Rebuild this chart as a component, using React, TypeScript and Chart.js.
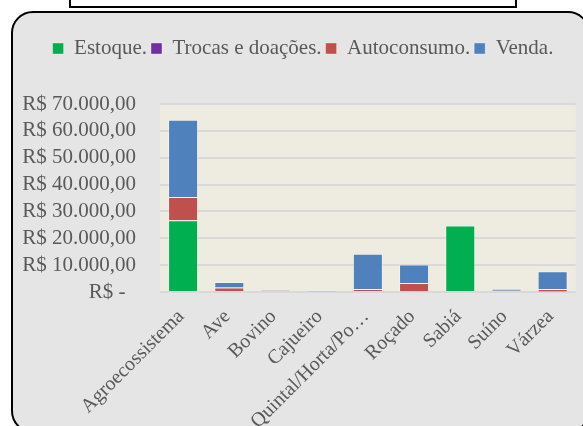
import React, { useEffect, useRef } from "react";
import { Chart, registerables } from "chart.js";

Chart.register(...registerables);

const categories = [
  "Agroecossistema",
  "Ave",
  "Bovino",
  "Cajueiro",
  "Quintal/Horta/Po…",
  "Roçado",
  "Sabiá",
  "Suíno",
  "Várzea",
];
const estoque = [26750, 0, 0, 0, 400, 300, 24750, 0, 200];
const trocas = [0, 0, 0, 0, 0, 0, 0, 0, 0];
const autoconsumo = [8600, 1700, 550, 0, 700, 3050, 0, 500, 900];
const venda = [28800, 2000, 200, 100, 13100, 6850, 0, 700, 6600];
const seriesNames = ["Estoque.", "Trocas e doações.", "Autoconsumo.", "Venda."];
const seriesColors = ["#00B050", "#7030A0", "#C0504D", "#4F81BD"];
const yMax = 70000;
const yStep = 10000;

const FONT = "'Times New Roman', 'Liberation Serif', serif";
const TEXT = "#595959";
const FS = 21;

function fmt(v: number): string {
  if (v === 0) return "R$ -  ";
  const s = Math.round(v).toString().replace(/\B(?=(\d{3})+(?!\d))/g, ".");
  return "R$ " + s + ",00";
}

const frame = {
  id: "frame",
  beforeDraw(chart: any) {
    const ctx = chart.ctx;
    const { width, height } = chart;
    ctx.save();
    ctx.fillStyle = "#ffffff";
    ctx.fillRect(0, 0, width, height);
    ctx.fillStyle = "#ffffff";
    ctx.strokeStyle = "#000000";
    ctx.lineWidth = 2;
    ctx.fillRect(70, -10, 446, 17);
    ctx.strokeRect(70, -10, 446, 17);
    const x = 12, y = 12, w = 577, h = 420, r = 21;
    ctx.beginPath();
    ctx.moveTo(x + r, y);
    ctx.lineTo(x + w - r, y);
    ctx.arcTo(x + w, y, x + w, y + r, r);
    ctx.lineTo(x + w, y + h - r);
    ctx.arcTo(x + w, y + h, x + w - r, y + h, r);
    ctx.lineTo(x + r, y + h);
    ctx.arcTo(x, y + h, x, y + h - r, r);
    ctx.lineTo(x, y + r);
    ctx.arcTo(x, y, x + r, y, r);
    ctx.closePath();
    ctx.fillStyle = "#E5E5E5";
    ctx.fill();
    ctx.stroke();
    const a = chart.chartArea;
    ctx.fillStyle = "#EEECE1";
    ctx.fillRect(a.left, a.top, a.right - a.left, a.bottom - a.top);
    ctx.restore();
  },
};

const legendSpacer = {
  id: "legendSpacer",
  beforeLayout(chart: any) {
    const lg = chart.legend;
    if (lg && !lg.__patched) {
      const origFit = lg.fit;
      lg.fit = function () {
        origFit.call(this);
        this.height += 35;
      };
      const origDraw = lg.draw;
      lg.draw = function () {
        const ctx = this.ctx;
        ctx.save();
        ctx.translate(6, 0);
        origDraw.call(this);
        ctx.restore();
      };
      lg.__patched = true;
    }
  },
};

export default function App() {
  const ref = useRef<HTMLCanvasElement>(null);
  useEffect(() => {
    if (!ref.current) return;
    const data = [estoque, trocas, autoconsumo, venda];
    const chart = new Chart(ref.current, {
      type: "bar",
      data: {
        labels: categories,
        datasets: data.map((d, i) => ({
          label: seriesNames[i],
          data: d,
          backgroundColor: seriesColors[i],
          borderColor: "rgba(255,255,255,0.35)",
          borderWidth: 1,
          barPercentage: 0.65,
          categoryPercentage: 1,
        })),
      },
      options: {
        responsive: false,
        animation: false,
        layout: { padding: { top: 34, left: 18, right: 7, bottom: 0 } },
        plugins: {
          tooltip: { enabled: false },
          legend: {
            position: "top",
            labels: {
              boxWidth: 11,
              boxHeight: 11,
              padding: 4,
              color: TEXT,
              font: { family: FONT, size: FS },
            },
          },
        },
        scales: {
          x: {
            stacked: true,
            grid: { display: false, drawTicks: false },
            border: { display: false },
            ticks: {
              color: TEXT,
              font: { family: FONT, size: 20 },
              minRotation: 45,
              maxRotation: 45,
              autoSkip: false,
              padding: 13,
              labelOffset: -2,
            },
            afterFit(scale: any) {
              scale.height = 134;
            },
          },
          y: {
            stacked: true,
            min: 0,
            max: yMax,
            grid: { color: "#D9D9D9", lineWidth: 2, drawTicks: false },
            border: { display: false },
            ticks: {
              stepSize: yStep,
              autoSkip: false,
              color: TEXT,
              font: { family: FONT, size: FS },
              padding: 24,
              callback: (v: any) => fmt(Number(v)),
            },
            afterFit(scale: any) {
              scale.width = 142;
            },
          },
        },
      },
      plugins: [frame, legendSpacer],
    } as any);
    return () => chart.destroy();
  }, []);
  return (
    <div style={{ position: "absolute", left: 0, top: 0, width: 583, height: 426 }}>
      <canvas ref={ref} width={583} height={426} />
    </div>
  );
}
